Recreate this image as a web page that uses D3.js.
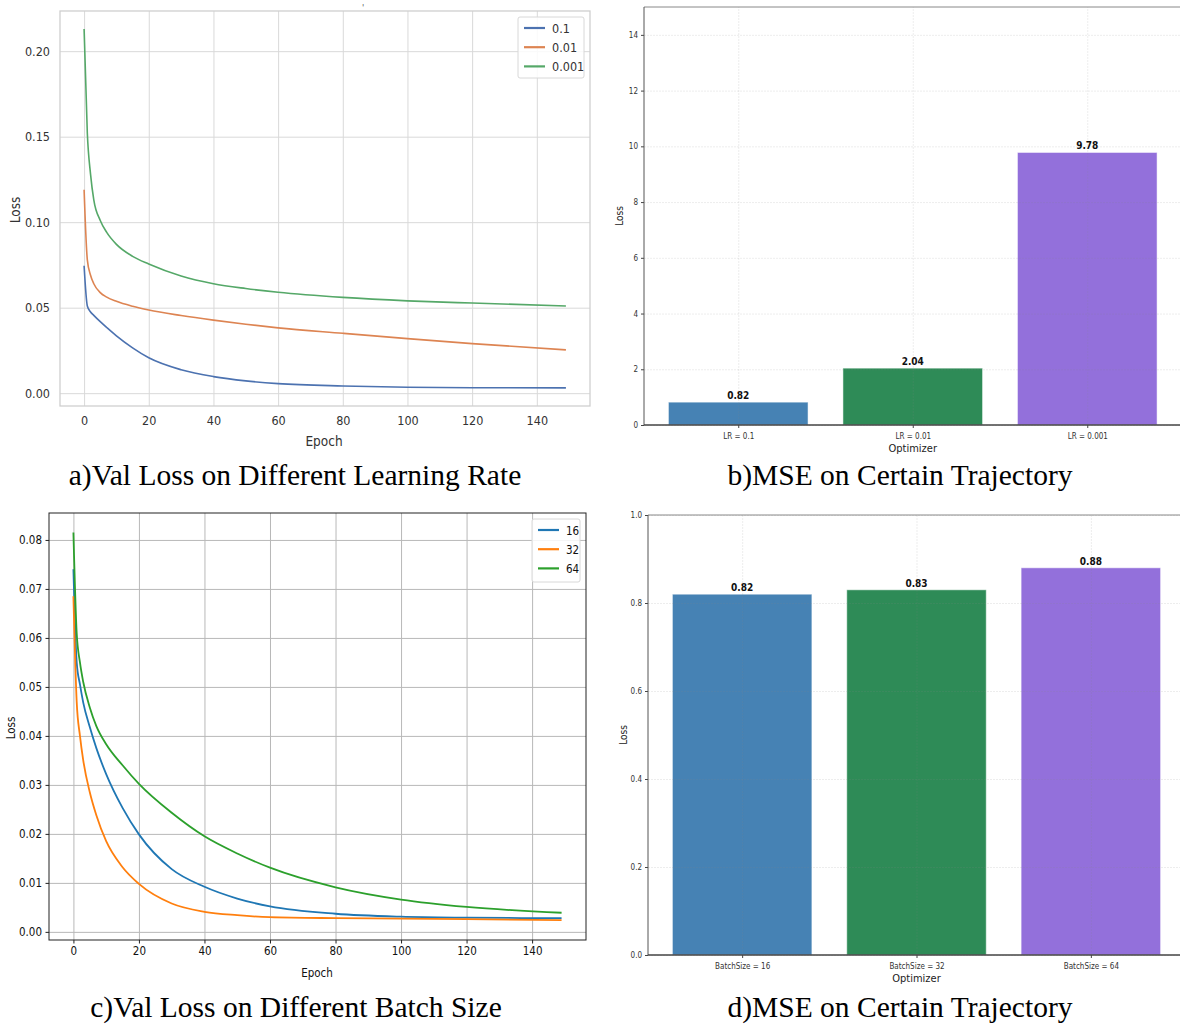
<!DOCTYPE html>
<html>
<head>
<meta charset="utf-8">
<script src="https://cdn.jsdelivr.net/npm/d3@7"></script>
<style>
  body { margin: 0; background: #fff; }
  text { font-family: "DejaVu Sans Condensed", "Liberation Sans Narrow", "DejaVu Sans", sans-serif; font-stretch: condensed; }
  .cap { font-family: "Liberation Serif", "Times New Roman", serif; font-stretch: normal; }
</style>
</head>
<body>
<svg id="fig" width="1180" height="1024"></svg>
<script>
const epochs = [0, 1, 2, 3, 5, 7, 10, 15, 20, 30, 40, 50, 60, 80, 100, 120, 149];

// a) val loss by learning rate
const lrNames = ["0.1", "0.01", "0.001"];
const lossLr01 = [0.0745, 0.051, 0.0475, 0.0455, 0.0418, 0.0384, 0.0335, 0.0265, 0.0207, 0.0137, 0.0097, 0.0072, 0.0056, 0.0042, 0.0035, 0.0032, 0.0031];
const lossLr001 = [0.119, 0.078, 0.069, 0.064, 0.0588, 0.0562, 0.0537, 0.0508, 0.0486, 0.0454, 0.0427, 0.0403, 0.0382, 0.0350, 0.0319, 0.0290, 0.0253];
const lossLr0001 = [0.213, 0.152, 0.128, 0.113, 0.101, 0.094, 0.087, 0.080, 0.0755, 0.0685, 0.064, 0.0612, 0.059, 0.056, 0.054, 0.0527, 0.051];
const ticksA = [0.00, 0.05, 0.10, 0.15, 0.20];

// c) val loss by batch size
const bsNames = ["16", "32", "64"];
const lossBs16 = [0.074, 0.055, 0.0505, 0.0468, 0.0418, 0.0375, 0.0322, 0.0253, 0.0199, 0.0128, 0.0092, 0.0068, 0.0052, 0.0037, 0.0031, 0.0029, 0.0028];
const lossBs32 = [0.0685, 0.047, 0.040, 0.035, 0.0285, 0.0238, 0.0185, 0.0132, 0.0098, 0.0058, 0.0041, 0.0034, 0.0030, 0.0028, 0.0027, 0.0026, 0.0024];
const lossBs64 = [0.0815, 0.061, 0.055, 0.051, 0.0458, 0.042, 0.0383, 0.0340, 0.0302, 0.0243, 0.0195, 0.0160, 0.0131, 0.0091, 0.0066, 0.0051, 0.0039];
const ticksC = [0.00, 0.01, 0.02, 0.03, 0.04, 0.05, 0.06, 0.07, 0.08];

const epochTicks = [0, 20, 40, 60, 80, 100, 120, 140];

// b) / d) bar charts
const lrCats = ["LR = 0.1", "LR = 0.01", "LR = 0.001"];
const mseLr = [0.82, 2.04, 9.78];
const ticksB = [0, 2, 4, 6, 8, 10, 12, 14];
const bsCats = ["BatchSize = 16", "BatchSize = 32", "BatchSize = 64"];
const mseBs = [0.82, 0.83, 0.88];
const ticksD = [0.0, 0.2, 0.4, 0.6, 0.8, 1.0];

const barColors = ["#4682b4", "#2e8b57", "#9370db"];

const svg = d3.select("#fig");
svg.append("rect").attr("width", 1180).attr("height", 1024).attr("fill", "#fff");

function linePanel(o) {
  const x = d3.scaleLinear().domain(o.xDom).range([o.left, o.right]);
  const y = d3.scaleLinear().domain(o.yDom).range([o.bottom, o.top]);
  const g = svg.append("g");

  // grid
  g.append("g").attr("transform", `translate(0,${o.bottom})`)
    .call(d3.axisBottom(x).tickValues(epochTicks).tickSize(-(o.bottom - o.top)).tickFormat(""))
    .call(a => a.select(".domain").remove())
    .call(a => a.selectAll("line").attr("stroke", o.grid).attr("stroke-width", 1));
  g.append("g").attr("transform", `translate(${o.left},0)`)
    .call(d3.axisLeft(y).tickValues(o.yTicks).tickSize(-(o.right - o.left)).tickFormat(""))
    .call(a => a.select(".domain").remove())
    .call(a => a.selectAll("line").attr("stroke", o.grid).attr("stroke-width", 1));

  // lines
  const line = d3.line().x((d, i) => x(epochs[i])).y(d => y(d)).curve(d3.curveMonotoneX);
  o.series.forEach((s, k) => {
    g.append("path").datum(s).attr("d", line)
      .attr("fill", "none").attr("stroke", o.colors[k]).attr("stroke-width", o.lw);
  });

  // axes
  const ax = g.append("g").attr("transform", `translate(0,${o.bottom})`)
    .call(d3.axisBottom(x).tickValues(epochTicks).tickSize(o.tick).tickPadding(o.pad));
  const ay = g.append("g").attr("transform", `translate(${o.left},0)`)
    .call(d3.axisLeft(y).tickValues(o.yTicks).tickSize(o.tick).tickPadding(o.pad).tickFormat(d3.format(".2f")));
  [ax, ay].forEach(a => {
    a.select(".domain").remove();
    a.selectAll("line").attr("stroke", o.frame);
    a.selectAll("text").attr("fill", o.text).style("font-size", o.fs + "px");
  });

  g.append("rect").attr("x", o.left).attr("y", o.top)
    .attr("width", o.right - o.left).attr("height", o.bottom - o.top)
    .attr("fill", "none").attr("stroke", o.frame).attr("stroke-width", o.fw);

  g.append("text").attr("transform", `translate(${o.yLab[0]},${o.yLab[1]}) rotate(-90)`)
    .attr("text-anchor", "middle").attr("fill", o.text).style("font-size", o.lfs + "px").text("Loss");
  g.append("text").attr("x", o.xLab[0]).attr("y", o.xLab[1])
    .attr("text-anchor", "middle").attr("fill", o.text).style("font-size", o.lfs + "px").text("Epoch");

  // legend
  const L = o.legend;
  g.append("rect").attr("x", L.x).attr("y", L.y).attr("width", L.w).attr("height", L.h)
    .attr("rx", 2).attr("fill", "#fff").attr("fill-opacity", 0.85).attr("stroke", "#d8d8d8");
  o.names.forEach((n, k) => {
    const yy = L.y + 11 + k * 19.2;
    g.append("line").attr("x1", L.x + 6).attr("x2", L.x + 27).attr("y1", yy).attr("y2", yy)
      .attr("stroke", o.colors[k]).attr("stroke-width", 2.2);
    g.append("text").attr("x", L.x + 34).attr("y", yy + 4.5).attr("fill", o.text)
      .style("font-size", o.fs + "px").text(n);
  });
}

function barPanel(o) {
  const x = d3.scaleLinear().domain([-0.54, 2.54]).range([o.left, o.right]);
  const y = d3.scaleLinear().domain(o.yDom).range([o.bottom, o.top]);
  const g = svg.append("g");
  const idx = o.cats.map((c, i) => i);

  g.selectAll("rect.bar").data(o.values).join("rect").attr("class", "bar")
    .attr("x", (d, i) => x(i - 0.4)).attr("width", x(0.4) - x(-0.4))
    .attr("y", d => y(d)).attr("height", d => o.bottom - y(d))
    .attr("fill", (d, i) => barColors[i]).attr("stroke", "#fff").attr("stroke-opacity", 0.5).attr("stroke-width", 1);

  // faint grid on top of bars
  g.append("g").attr("transform", `translate(0,${o.bottom})`)
    .call(d3.axisBottom(x).tickValues(idx).tickSize(-(o.bottom - o.top)).tickFormat(""))
    .call(a => a.select(".domain").remove())
    .call(a => a.selectAll("line").attr("stroke", "#888").attr("stroke-opacity", 0.15).attr("stroke-dasharray", "2,1"));
  g.append("g").attr("transform", `translate(${o.left},0)`)
    .call(d3.axisLeft(y).tickValues(o.yTicks).tickSize(-(o.right - o.left)).tickFormat(""))
    .call(a => a.select(".domain").remove())
    .call(a => a.selectAll("line").attr("stroke", "#888").attr("stroke-opacity", 0.15).attr("stroke-dasharray", "2,1"));

  g.selectAll("text.val").data(o.values).join("text").attr("class", "val")
    .attr("x", (d, i) => x(i)).attr("y", d => y(d) - 3)
    .attr("text-anchor", "middle").attr("font-weight", "bold").attr("fill", "#111")
    .style("font-size", "10px").text(d => d.toFixed(2));

  const ax = g.append("g").attr("transform", `translate(0,${o.bottom})`)
    .call(d3.axisBottom(x).tickValues(idx).tickSize(3).tickPadding(5).tickFormat(i => o.cats[i]));
  const ay = g.append("g").attr("transform", `translate(${o.left},0)`)
    .call(d3.axisLeft(y).tickValues(o.yTicks).tickSize(3).tickPadding(3).tickFormat(o.fmt));
  [ax, ay].forEach(a => {
    a.select(".domain").remove();
    a.selectAll("line").attr("stroke", "#444");
    a.selectAll("text").attr("fill", "#333").style("font-size", "8px");
  });

  g.append("line").attr("x1", o.left).attr("x2", o.right).attr("y1", o.top).attr("y2", o.top)
    .attr("stroke", "#888").attr("stroke-width", 1);
  g.append("line").attr("x1", o.left).attr("x2", o.left).attr("y1", o.top).attr("y2", o.bottom)
    .attr("stroke", "#555").attr("stroke-width", 1);
  g.append("line").attr("x1", o.left).attr("x2", o.right).attr("y1", o.bottom).attr("y2", o.bottom)
    .attr("stroke", "#444").attr("stroke-width", 1.3);

  g.append("text").attr("transform", `translate(${o.left - 21},${(o.top + o.bottom) / 2}) rotate(-90)`)
    .attr("text-anchor", "middle").attr("fill", "#222").style("font-size", "10px").text("Loss");
  g.append("text").attr("x", x(1)).attr("y", o.bottom + 27)
    .attr("text-anchor", "middle").attr("fill", "#222").style("font-size", "11px").text("Optimizer");
}

linePanel({
  left: 60, right: 590, top: 11, bottom: 406,
  xDom: [-7.45, 156.45], yDom: [-0.0075, 0.2235], yTicks: ticksA,
  series: [lossLr01, lossLr001, lossLr0001], names: lrNames,
  colors: ["#4c72b0", "#dd8452", "#55a868"], lw: 1.6,
  grid: "#d9d9d9", frame: "#cfcfcf", fw: 1.3, text: "#333", fs: 12.5, lfs: 13.5,
  tick: 0, pad: 10,
  yLab: [20, 210], xLab: [324, 446],
  legend: { x: 518, y: 17, w: 66, h: 61 }
});

linePanel({
  left: 49, right: 586, top: 513, bottom: 940,
  xDom: [-7.45, 156.45], yDom: [-0.00166, 0.0855], yTicks: ticksC,
  series: [lossBs16, lossBs32, lossBs64], names: bsNames,
  colors: ["#1f77b4", "#ff7f0e", "#2ca02c"], lw: 1.8,
  grid: "#b8b8b8", frame: "#222", fw: 1, text: "#111", fs: 11.5, lfs: 11.5,
  tick: 3.5, pad: 3.5,
  yLab: [15, 728], xLab: [317, 977],
  legend: { x: 532, y: 519, w: 48, h: 63 }
});

barPanel({
  left: 644, right: 1181.5, top: 7, bottom: 425,
  yDom: [0, 15], yTicks: ticksB, fmt: d3.format("d"),
  cats: lrCats, values: mseLr
});

barPanel({
  left: 648, right: 1185, top: 515, bottom: 955,
  yDom: [0, 1], yTicks: ticksD, fmt: d3.format(".1f"),
  cats: bsCats, values: mseBs
});

// stray mark above panel a
svg.append("text").attr("x", 363).attr("y", 11).attr("text-anchor", "middle")
  .attr("fill", "#555").style("font-size", "9px").text("'");

// captions
const captions = [
  { t: "a)Val Loss on Different Learning Rate", x: 295, y: 485 },
  { t: "b)MSE on Certain Trajectory", x: 900, y: 485 },
  { t: "c)Val Loss on Different Batch Size", x: 296, y: 1017 },
  { t: "d)MSE on Certain Trajectory", x: 900, y: 1017 }
];
svg.selectAll("text.cap").data(captions).join("text").attr("class", "cap")
  .attr("x", d => d.x).attr("y", d => d.y).attr("text-anchor", "middle")
  .attr("fill", "#000").style("font-size", "29.5px").text(d => d.t);
</script>
</body>
</html>
